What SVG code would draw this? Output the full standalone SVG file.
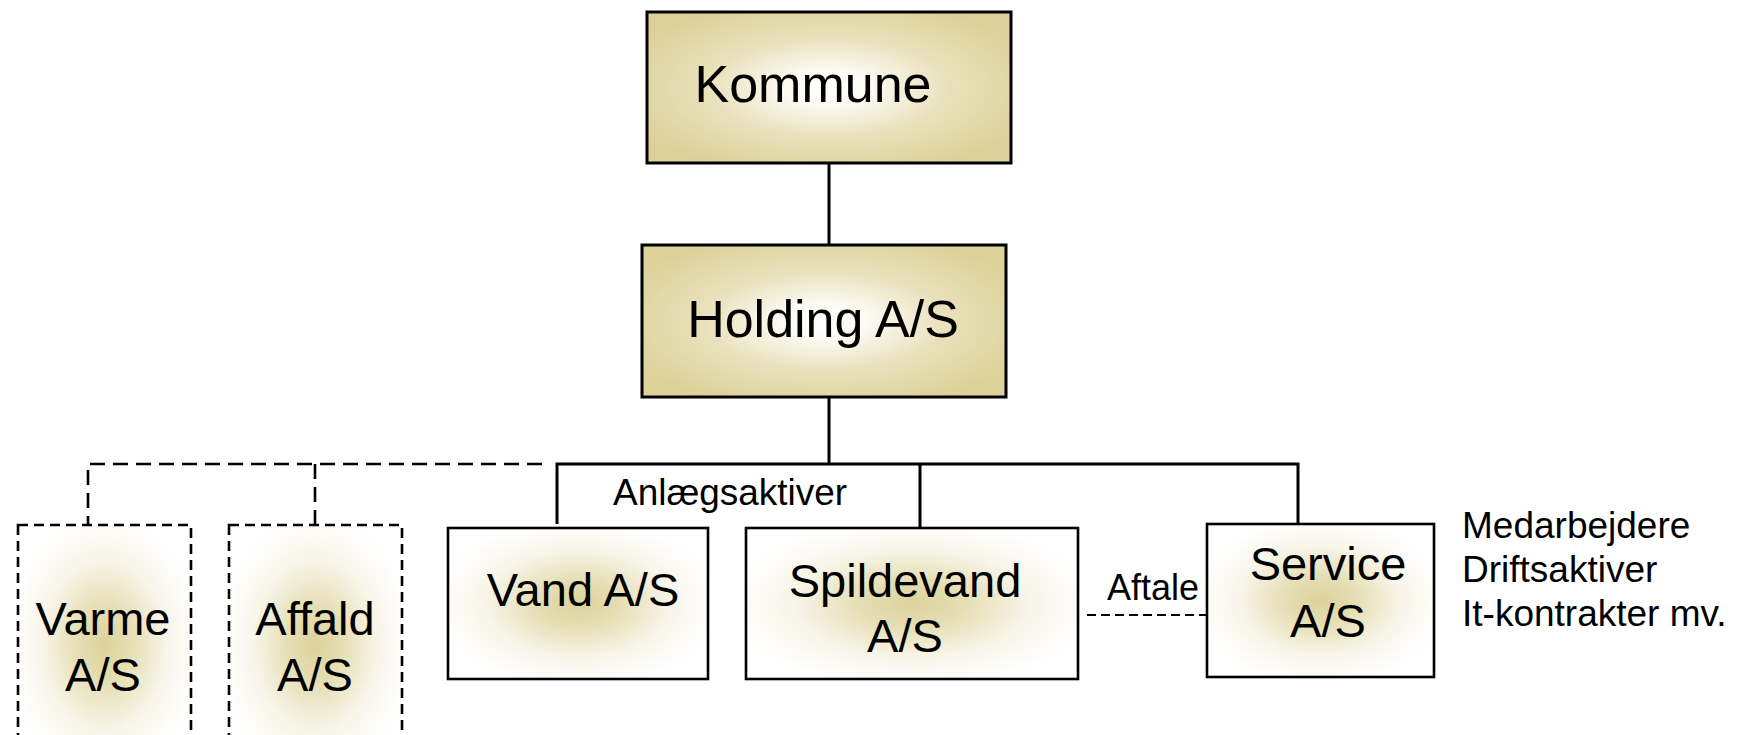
<svg xmlns="http://www.w3.org/2000/svg" width="1737" height="735" viewBox="0 0 1737 735">
  <style>
    text { font-family: "Liberation Sans", Arial, sans-serif; fill: #000; }
    .big { font-size: 52px; text-anchor: middle; }
    .mid { font-size: 47px; text-anchor: middle; }
    .small { font-size: 36px; }
    .side { font-size: 37px; }
    .top { stroke: #000; stroke-width: 3; fill: url(#gTop); }
    .sub { stroke: #000; stroke-width: 2.6; fill: url(#gSub); }
    .subd { stroke: #000; stroke-width: 2.6; stroke-dasharray: 10 6; fill: url(#gSub); }
    .line { stroke: #000; stroke-width: 3; fill: none; }
    .dash { stroke: #000; stroke-width: 2.6; fill: none; stroke-dasharray: 15 8; }
    .dash2 { stroke: #000; stroke-width: 2; fill: none; stroke-dasharray: 9 5; }
  </style>
  <defs>
    <radialGradient id="gTop" cx="0.5" cy="0.5" r="0.6">
      <stop offset="0" stop-color="#ffffff"/>
      <stop offset="0.2" stop-color="#fcfaf2"/>
      <stop offset="0.55" stop-color="#e9e1bc"/>
      <stop offset="1" stop-color="#dcd198"/>
    </radialGradient>
    <radialGradient id="gSub" cx="0.5" cy="0.5" r="0.55">
      <stop offset="0" stop-color="#ddd29b"/>
      <stop offset="0.3" stop-color="#e6dfb6"/>
      <stop offset="0.65" stop-color="#f8f5e9"/>
      <stop offset="1" stop-color="#ffffff"/>
    </radialGradient>
  </defs>

  <g id="connectors">
    <path class="line" d="M829,163 V245"/>
    <path class="line" d="M829,397 V464"/>
    <path class="line" d="M557,524 V464 H1298 V524"/>
    <path class="line" d="M920,464 V528"/>
    <path class="dash" d="M542,464 H88 V524"/>
    <path class="dash" d="M315,464 V524"/>
    <path class="dash2" d="M1087,615 H1207"/>
  </g>

  <g id="kommune">
    <rect class="top" x="647" y="12" width="364" height="151"/>
    <text class="big" x="813" y="102">Kommune</text>
  </g>

  <g id="holding">
    <rect class="top" x="642" y="245" width="364" height="152"/>
    <text class="big" x="823" y="337">Holding A/S</text>
  </g>

  <g id="varme">
    <rect class="subd" x="18" y="525" width="173" height="240"/>
    <text class="mid" x="103" y="635">Varme</text>
    <text class="mid" x="103" y="691">A/S</text>
  </g>

  <g id="affald">
    <rect class="subd" x="229" y="525" width="173" height="240"/>
    <text class="mid" x="315" y="635">Affald</text>
    <text class="mid" x="315" y="691">A/S</text>
  </g>

  <g id="vand">
    <rect class="sub" x="448" y="528" width="260" height="151"/>
    <text class="mid" x="583" y="606">Vand A/S</text>
  </g>

  <g id="spildevand">
    <rect class="sub" x="746" y="528" width="332" height="151"/>
    <text class="mid" x="905" y="597">Spildevand</text>
    <text class="mid" x="905" y="652">A/S</text>
  </g>

  <g id="service">
    <rect class="sub" x="1207" y="524" width="227" height="153"/>
    <text class="mid" x="1328" y="580">Service</text>
    <text class="mid" x="1328" y="637">A/S</text>
  </g>

  <g id="labels">
    <text class="small" x="613" y="505" font-size="35" textLength="234" lengthAdjust="spacingAndGlyphs">Anlægsaktiver</text>
    <text class="small" x="1107" y="600">Aftale</text>
    <text class="side" x="1462" y="538">Medarbejdere</text>
    <text class="side" x="1462" y="582">Driftsaktiver</text>
    <text class="side" x="1462" y="626">It-kontrakter mv.</text>
  </g>
</svg>
